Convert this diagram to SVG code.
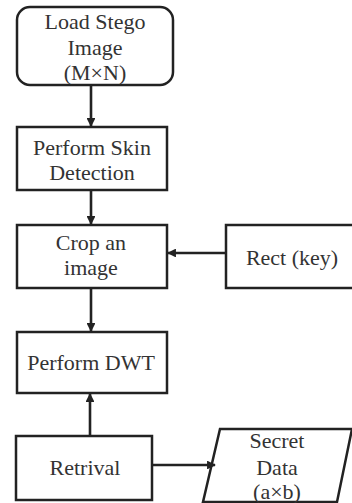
<svg xmlns="http://www.w3.org/2000/svg" width="352" height="503" viewBox="0 0 352 503">
<style>
.b{fill:#fff;stroke:#222;stroke-width:2.5}
.t{font-size:22px;fill:#333;text-anchor:middle}
.c{stroke:#222;stroke-width:2.6;fill:none}
</style>
<defs>
<marker id="a" viewBox="0 0 10 10" refX="9" refY="5" markerWidth="3.4" markerHeight="3.4" orient="auto" markerUnits="strokeWidth">
<path d="M0,0L10,5L0,10z" fill="#222"/>
</marker>
</defs>
<rect width="352" height="503" fill="#fff"/>
<g font-family="Liberation Serif, DejaVu Serif, serif">
<g id="n1"><rect class="b" x="17" y="7" width="156" height="78" rx="13"/>
<text class="t" x="95" y="29">Load  Stego</text><text class="t" x="95" y="55">Image</text><text class="t" x="95" y="80">(M×N)</text></g>
<g id="n2"><rect class="b" x="17" y="127" width="150" height="63"/>
<text class="t" x="92" y="155">Perform Skin</text><text class="t" x="92" y="180">Detection</text></g>
<g id="n3"><rect class="b" x="17" y="225" width="150" height="63"/>
<text class="t" x="91" y="250">Crop an</text><text class="t" x="91" y="275">image</text></g>
<g id="n4"><rect class="b" x="226" y="225" width="130" height="63"/>
<text class="t" x="292" y="265">Rect (key)</text></g>
<g id="n5"><rect class="b" x="17" y="332" width="150" height="61"/>
<text class="t" x="91" y="370">Perform DWT</text></g>
<g id="n6"><rect class="b" x="16" y="436" width="136" height="64"/>
<text class="t" x="85" y="475">Retrival</text></g>
<g id="n7"><path class="b" d="M220,429L352,429L337,502L203,502z"/>
<text class="t" x="277" y="448">Secret</text><text class="t" x="277" y="475">Data</text><text class="t" x="277" y="499">(a×b)</text></g>
</g>
<g id="connectors">
<path class="c" d="M91,85V126" marker-end="url(#a)"/>
<path class="c" d="M91,190V224" marker-end="url(#a)"/>
<path class="c" d="M226,253H168" marker-end="url(#a)"/>
<path class="c" d="M91,288V331" marker-end="url(#a)"/>
<path class="c" d="M90,436V394" marker-end="url(#a)"/>
<path class="c" d="M152,465H215" marker-end="url(#a)"/>
</g>
</svg>
